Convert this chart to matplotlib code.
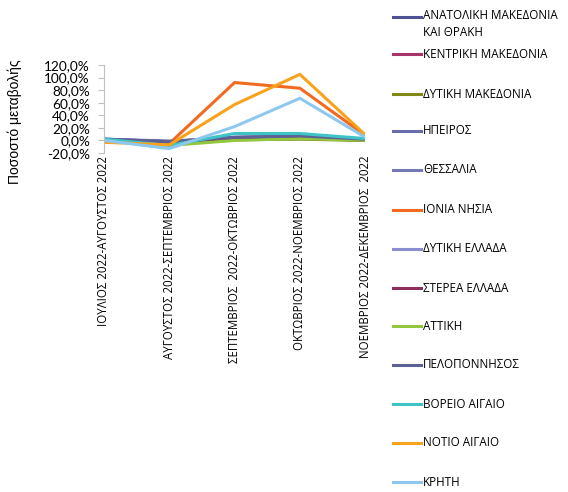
import matplotlib.pyplot as plt
from matplotlib.lines import Line2D
from matplotlib.ticker import FuncFormatter

plt.rcParams['font.family'] = ['Open Sans', 'DejaVu Sans']

periods = ['ΙΟΥΛΙΟΣ 2022-ΑΥΓΟΥΣΤΟΣ 2022',
           'ΑΥΓΟΥΣΤΟΣ 2022-ΣΕΠΤΕΜΒΡΙΟΣ 2022',
           'ΣΕΠΤΕΜΒΡΙΟΣ  2022-ΟΚΤΩΒΡΙΟΣ 2022',
           'ΟΚΤΩΒΡΙΟΣ 2022-ΝΟΕΜΒΡΙΟΣ 2022',
           'ΝΟΕΜΒΡΙΟΣ 2022-ΔΕΚΕΜΒΡΙΟΣ  2022']

regions = ['ΑΝΑΤΟΛΙΚΗ ΜΑΚΕΔΟΝΙΑ\nΚΑΙ ΘΡΑΚΗ', 'ΚΕΝΤΡΙΚΗ ΜΑΚΕΔΟΝΙΑ', 'ΔΥΤΙΚΗ ΜΑΚΕΔΟΝΙΑ',
           'ΗΠΕΙΡΟΣ', 'ΘΕΣΣΑΛΙΑ', 'ΙΟΝΙΑ ΝΗΣΙΑ', 'ΔΥΤΙΚΗ ΕΛΛΑΔΑ', 'ΣΤΕΡΕΑ ΕΛΛΑΔΑ',
           'ΑΤΤΙΚΗ', 'ΠΕΛΟΠΟΝΝΗΣΟΣ', 'ΒΟΡΕΙΟ ΑΙΓΑΙΟ', 'ΝΟΤΙΟ ΑΙΓΑΙΟ', 'ΚΡΗΤΗ']

colors = ['#4f5396', '#a8346c', '#7f8a16', '#6a6ea8', '#7679b8', '#f26a21',
          '#8a8ed0', '#8c2f5c', '#93c83e', '#5d6195', '#3ec3c6', '#f9a21b', '#8ec8f0']

# percent change per region, 5 periods
anat_mak = [2, -2, 5, 7, 1]
kentr_mak = [1, -3, 3, 5, 1]
dyt_mak = [0, -7, 1, 2, 0]
ipeiros = [2, -1, 4, 6, 1]
thessalia = [1, -2, 4, 6, 1]
ionia = [-2, -5, 92, 83, 8]
dyt_ellada = [1, -3, 4, 6, 1]
sterea = [1, -4, 2, 4, 0]
attiki = [0, -8, 0, 3, 0]
peloponnisos = [2, -2, 5, 7, 2]
voreio = [2, -8, 11, 11, 3]
notio = [-3, -7, 57, 105, 9]
kriti = [0, -13, 22, 67, 5]

values = [anat_mak, kentr_mak, dyt_mak, ipeiros, thessalia, ionia, dyt_ellada,
          sterea, attiki, peloponnisos, voreio, notio, kriti]

fig = plt.figure(figsize=(5.68, 4.92), dpi=100)
ax = fig.add_axes([0.183, 0.689, 0.46, 0.179])

x = list(range(len(periods)))
for vals, c in zip(values, colors):
    ax.plot(x, vals, color=c, linewidth=2.2, solid_joinstyle='miter')

ax.set_xlim(0, len(periods) - 1)
ax.set_ylim(-20, 120)
ax.set_yticks(range(-20, 121, 20))
ax.yaxis.set_major_formatter(FuncFormatter(lambda v, p: f'{v:.1f}%'.replace('.', ',')))
ax.tick_params(axis='y', labelsize=9.8, length=4, color='#bfbfbf', pad=6)
for lbl in ax.get_yticklabels():
    lbl.set_fontfamily(['Lato', 'DejaVu Sans'])
ax.set_xticks(x)
ax.set_xticklabels(periods, rotation=90, va='top', ha='center', fontsize=8.3)
ax.tick_params(axis='x', length=0, pad=2)
for s in ['top', 'right', 'bottom']:
    ax.spines[s].set_visible(False)
ax.spines['left'].set_color('#bfbfbf')

fig.text(15 / 568, 1 - 122 / 492, 'Ποσοστό μεταβολής', rotation=90, fontsize=10,
         family=['Liberation Sans', 'DejaVu Sans'], ha='center', va='center')

# legend on the right, one entry per region
ys = [17, 54, 94, 131, 170, 210, 249, 288, 326, 365, 404, 443, 482]
for name, c, yp in zip(regions, colors, ys):
    yf = 1 - yp / 492
    fig.add_artist(Line2D([393 / 568, 421 / 568], [yf, yf], color=c, linewidth=2.2))
    if '\n' in name:
        fig.text(423 / 568, 1 - (yp - 8) / 492, name, fontsize=8.4, va='top',
                 ha='left', linespacing=1.35)
    else:
        fig.text(423 / 568, yf, name, fontsize=8.4, va='center', ha='left')

fig.savefig('out.png', dpi=100)
